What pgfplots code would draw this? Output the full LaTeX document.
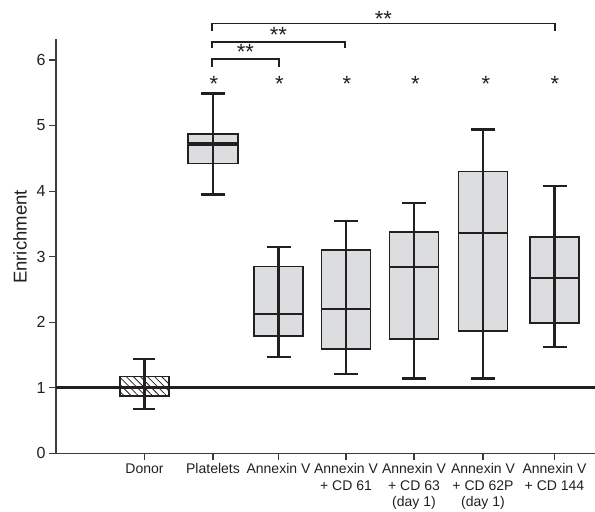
\documentclass[border=0pt]{standalone}
\usepackage{fontspec}
\setmainfont{Liberation Sans}
\usepackage{pgfplots}
\pgfplotsset{compat=1.18}
\usepgfplotslibrary{statistics}
\usetikzlibrary{patterns.meta}
\definecolor{edge}{HTML}{231F20}
\definecolor{boxfill}{HTML}{DCDDDF}
\definecolor{axcol}{HTML}{3C3C3C}
\begin{document}
\begin{tikzpicture}
\begin{axis}[name=ax, scale only axis, width=539pt, height=414.3pt,
  xmin=0, xmax=539, ymin=0, ymax=6.32,
  axis lines*=left, clip=false,
  axis line style={axcol, line width=1.3pt},
  tick align=outside, major tick length=7pt,
  tick style={axcol, line width=1.1pt},
  ytick={0,1,2,3,4,5,6},
  xtick={88.5,157,222.5,290,358,427,498.5},
  xticklabels={Donor, Platelets, Annexin V, Annexin V\\+ CD 61, Annexin V\\+ CD 63\\(day 1), Annexin V\\+ CD 62P\\(day 1), Annexin V\\+ CD 144},
  xticklabel style={align=center, font=\fontsize{14}{16.5}\selectfont, text=edge},
  yticklabel style={font=\fontsize{16}{19}\selectfont, text=edge},
  /pgf/number format/assume math mode=true,
  ylabel={Enrichment},
  ylabel style={font=\fontsize{18.5}{21}\selectfont, text=edge, at={(axis description cs:-0.0668,0.522)}, anchor=center},
  boxplot/draw direction=y,
  boxplot/every whisker/.style={line width=2.3pt},
  boxplot/every median/.style={line width=1.8pt},
  boxplot/every box/.style={line width=1.8pt},
]
% Donor (hatched)
\addplot[draw=edge, fill=white, line width=1.8pt,
  boxplot prepared={draw position=88.5, lower whisker=0.68, lower quartile=0.88, median=1.0, upper quartile=1.17, upper whisker=1.44, box extend=49, whisker extend=22}] coordinates {};
\addplot[draw=none, pattern={Lines[angle=-45,distance=5pt,line width=0.8pt]}, pattern color=edge] coordinates {(64.5,0.89) (112.5,0.89) (112.5,1.16) (64.5,1.16) (64.5,0.89)};
\addplot[edge, line width=1.8pt] coordinates {(64,0.88) (113,0.88) (113,1.17) (64,1.17) (64,0.88)};
\addplot[edge, line width=2.3pt] coordinates {(88.5,0.68) (88.5,1.44)};
% Platelets
\addplot[draw=edge, fill=boxfill, line width=1.8pt,
  boxplot prepared={draw position=157, lower whisker=3.95, lower quartile=4.42, median=4.72, upper quartile=4.87, upper whisker=5.49, box extend=50, whisker extend=24, every median/.style={line width=4pt}}] coordinates {};
\addplot[edge, line width=2.3pt] coordinates {(157,3.95) (157,5.49)};
% Annexin V
\addplot[draw=edge, fill=boxfill, line width=1.8pt,
  boxplot prepared={draw position=222.5, lower whisker=1.47, lower quartile=1.79, median=2.12, upper quartile=2.85, upper whisker=3.15, box extend=49, whisker extend=24}] coordinates {};
\addplot[edge, line width=2.3pt] coordinates {(222.5,1.47) (222.5,3.15)};
% CD 61
\addplot[draw=edge, fill=boxfill, line width=1.8pt,
  boxplot prepared={draw position=290, lower whisker=1.21, lower quartile=1.585, median=2.20, upper quartile=3.10, upper whisker=3.54, box extend=49, whisker extend=24}] coordinates {};
\addplot[edge, line width=2.3pt] coordinates {(290,1.21) (290,3.54)};
% CD 63
\addplot[draw=edge, fill=boxfill, line width=1.8pt,
  boxplot prepared={draw position=358, lower whisker=1.14, lower quartile=1.74, median=2.84, upper quartile=3.38, upper whisker=3.82, box extend=49, whisker extend=24}] coordinates {};
\addplot[edge, line width=2.3pt] coordinates {(358,1.14) (358,3.82)};
% CD 62P
\addplot[draw=edge, fill=boxfill, line width=1.8pt,
  boxplot prepared={draw position=427, lower whisker=1.14, lower quartile=1.86, median=3.36, upper quartile=4.30, upper whisker=4.94, box extend=49, whisker extend=24}] coordinates {};
\addplot[edge, line width=2.3pt] coordinates {(427,1.14) (427,4.94)};
% CD 144
\addplot[draw=edge, fill=boxfill, line width=1.8pt,
  boxplot prepared={draw position=498.5, lower whisker=1.62, lower quartile=1.99, median=2.68, upper quartile=3.30, upper whisker=4.08, box extend=49, whisker extend=24}] coordinates {};
\addplot[edge, line width=2.3pt] coordinates {(498.5,1.62) (498.5,4.08)};
% reference line at 1
\addplot[edge, line width=3.5pt] coordinates {(0,1) (539,1)};
% brackets
\addplot[edge, line width=1.8pt] coordinates {(156,5.90) (156,6.015) (223,6.015) (223,5.90)};
\addplot[edge, line width=1.8pt] coordinates {(156,6.18) (156,6.28) (289,6.28) (289,6.18)};
\addplot[edge, line width=1.8pt] coordinates {(156,6.44) (156,6.555) (499,6.555) (499,6.44)};
% stars
\node[font=\fontsize{22}{24}\selectfont, text=edge, anchor=base] at (axis cs:158,5.52) {*};
\node[font=\fontsize{22}{24}\selectfont, text=edge, anchor=base] at (axis cs:223.5,5.52) {*};
\node[font=\fontsize{22}{24}\selectfont, text=edge, anchor=base] at (axis cs:291,5.52) {*};
\node[font=\fontsize{22}{24}\selectfont, text=edge, anchor=base] at (axis cs:359.5,5.52) {*};
\node[font=\fontsize{22}{24}\selectfont, text=edge, anchor=base] at (axis cs:430,5.52) {*};
\node[font=\fontsize{22}{24}\selectfont, text=edge, anchor=base] at (axis cs:499,5.52) {*};
\node[font=\fontsize{22}{24}\selectfont, text=edge, anchor=base] at (axis cs:189.5,6.00) {**};
\node[font=\fontsize{22}{24}\selectfont, text=edge, anchor=base] at (axis cs:222.5,6.27) {**};
\node[font=\fontsize{22}{24}\selectfont, text=edge, anchor=base] at (axis cs:327.5,6.515) {**};
\end{axis}
\pgfresetboundingbox
\path ([xshift=-56pt,yshift=-58.7pt]ax.south west) rectangle ([yshift=39pt]ax.north east);
\end{tikzpicture}
\end{document}
